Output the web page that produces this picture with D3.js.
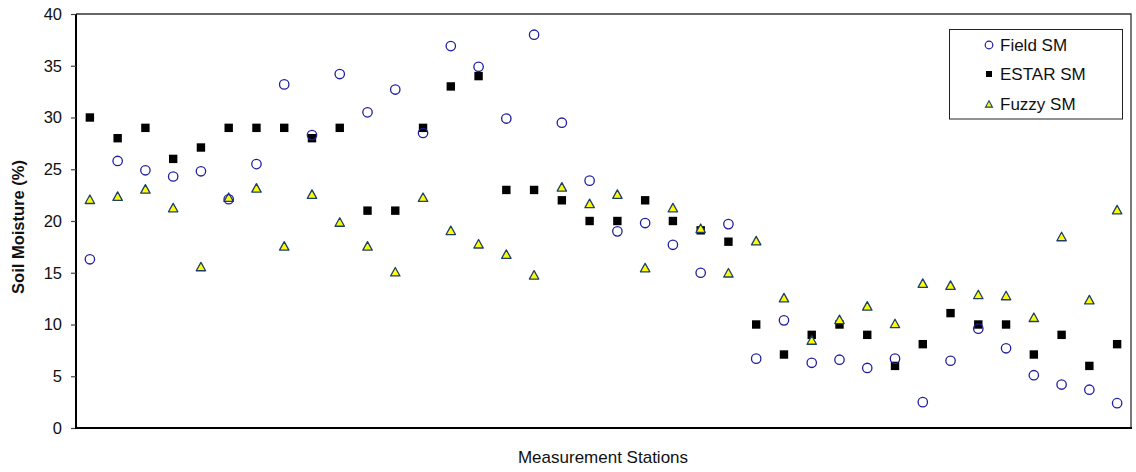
<!DOCTYPE html>
<html>
<head>
<meta charset="utf-8">
<script src="https://cdn.jsdelivr.net/npm/d3@7"></script>
<style>
  html, body { margin: 0; padding: 0; background: #fff; }
  svg { display: block; font-family: "Liberation Sans", Arial, sans-serif; }
</style>
</head>
<body>
<svg id="chart" width="1136" height="472"></svg>
<script>
// Soil moisture at 38 measurement stations: field-measured, ESTAR-retrieved and fuzzy-model estimates
const stations = d3.range(1, 39).map(i => "S" + i);
const fieldSM = [16.3, 25.8, 24.9, 24.3, 24.8, 22.1, 25.5, 33.2, 28.3, 34.2, 30.5, 32.7, 28.5, 36.9, 34.9, 29.9, 38.0, 29.5, 23.9, 19.0,
                 19.8, 17.7, 15.0, 19.7, 6.7, 10.4, 6.3, 6.6, 5.8, 6.7, 2.5, 6.5, 9.6, 7.7, 5.1, 4.2, 3.7, 2.4];
const estarSM = [30, 28, 29, 26, 27.1, 29, 29, 29, 28, 29, 21, 21, 29, 33, 34, 23, 23, 22, 20, 20,
                 22, 20, 19.1, 18, 10, 7.1, 9, 10, 9, 6, 8.1, 11.1, 10, 10, 7.1, 9, 6, 8.1];
const fuzzySM = [22.1, 22.4, 23.1, 21.3, 15.6, 22.3, 23.2, 17.6, 22.6, 19.9, 17.6, 15.1, 22.3, 19.1, 17.8, 16.8, 14.8, 23.3, 21.7, 22.6,
                 15.5, 21.3, 19.3, 15.0, 18.1, 12.6, 8.5, 10.5, 11.8, 10.1, 14.0, 13.8, 12.9, 12.8, 10.7, 18.5, 12.4, 21.1];
const yTicks = [0, 5, 10, 15, 20, 25, 30, 35, 40];
const seriesNames = ["Field SM", "ESTAR SM", "Fuzzy SM"];

const svg = d3.select("#chart");
const plotL = 76, plotR = 1131, plotT = 14, plotB = 428;

const x = d3.scaleBand().domain(stations).range([plotL, plotR]).padding(0);
const y = d3.scaleLinear().domain([0, 40]).range([plotB, plotT]);
const cx = s => x(s) + x.bandwidth() / 2;

const blue = "#1f1f9e", navy = "#1d3f6b";

// frame: thin top/right edges
svg.append("path")
  .attr("d", `M${plotL},${plotT}H${plotR}V${plotB}`)
  .attr("fill", "none").attr("stroke", "#333").attr("stroke-width", 1.3);

// y axis
const yAxis = svg.append("g")
  .attr("transform", `translate(${plotL},0)`)
  .call(d3.axisLeft(y).tickValues(yTicks).tickSize(5).tickPadding(9).tickFormat(d3.format("d")));
yAxis.select(".domain").attr("stroke", "#000").attr("stroke-width", 2).attr("d", `M0,${plotB + 1}V${plotT}`);
yAxis.selectAll(".tick line").attr("stroke", "#444").attr("stroke-width", 1.2);
yAxis.selectAll(".tick text").attr("font-size", 16.5).attr("fill", "#111").attr("font-family", "Liberation Sans, Arial, sans-serif");

// x axis (no ticks)
svg.append("line")
  .attr("x1", plotL - 1).attr("x2", plotR + 1).attr("y1", plotB).attr("y2", plotB)
  .attr("stroke", "#000").attr("stroke-width", 2);

// axis titles
svg.append("text")
  .attr("transform", `translate(24,${(plotT + plotB) / 2 + 6}) rotate(-90)`)
  .attr("text-anchor", "middle")
  .attr("font-size", 16.5).attr("font-weight", "bold").attr("fill", "#111")
  .text("Soil Moisture (%)");

svg.append("text")
  .attr("x", 603).attr("y", 463)
  .attr("text-anchor", "middle")
  .attr("font-size", 17).attr("fill", "#111")
  .text("Measurement Stations");

// triangle marker path centred on its bounding box
const triPath = (s) => {
  const w = s, h = s * 0.9;
  return `M0,${-h / 2}L${w / 2},${h / 2}L${-w / 2},${h / 2}Z`;
};

const plot = svg.append("g");

// ESTAR: black squares
plot.selectAll("rect.estar").data(estarSM).join("rect")
  .attr("class", "estar")
  .attr("x", (d, i) => cx(stations[i]) - 4.2)
  .attr("y", d => y(d) - 4.2)
  .attr("width", 8.4).attr("height", 8.4)
  .attr("fill", "#000");

// Fuzzy: yellow triangles
plot.selectAll("path.fuzzy").data(fuzzySM).join("path")
  .attr("class", "fuzzy")
  .attr("transform", (d, i) => `translate(${cx(stations[i])},${y(d)})`)
  .attr("d", triPath(9.4))
  .attr("fill", "#ffff00").attr("stroke", navy).attr("stroke-width", 1.3)
  .attr("stroke-linejoin", "round");

// Field: open blue circles
plot.selectAll("circle.field").data(fieldSM).join("circle")
  .attr("class", "field")
  .attr("cx", (d, i) => cx(stations[i]))
  .attr("cy", d => y(d))
  .attr("r", 4.7)
  .attr("fill", "none").attr("stroke", blue).attr("stroke-width", 1.3);

// legend
const lg = svg.append("g");
lg.append("rect")
  .attr("x", 949.5).attr("y", 29.5).attr("width", 173).attr("height", 89.5)
  .attr("fill", "#fff").attr("stroke", "#222").attr("stroke-width", 1);
const ly = [45, 74, 104];
lg.append("circle").attr("cx", 989).attr("cy", ly[0]).attr("r", 3.8)
  .attr("fill", "none").attr("stroke", blue).attr("stroke-width", 1.2);
lg.append("rect").attr("x", 986).attr("y", ly[1] - 3).attr("width", 6).attr("height", 6).attr("fill", "#000");
lg.append("path").attr("transform", `translate(989,${ly[2]})`).attr("d", triPath(7))
  .attr("fill", "#ffff00").attr("stroke", navy).attr("stroke-width", 1.1);
lg.selectAll("text.lab").data(seriesNames).join("text")
  .attr("class", "lab")
  .attr("x", 1000).attr("y", (d, i) => ly[i] + 6)
  .attr("font-size", 17).attr("fill", "#111")
  .text(d => d);
</script>
</body>
</html>
